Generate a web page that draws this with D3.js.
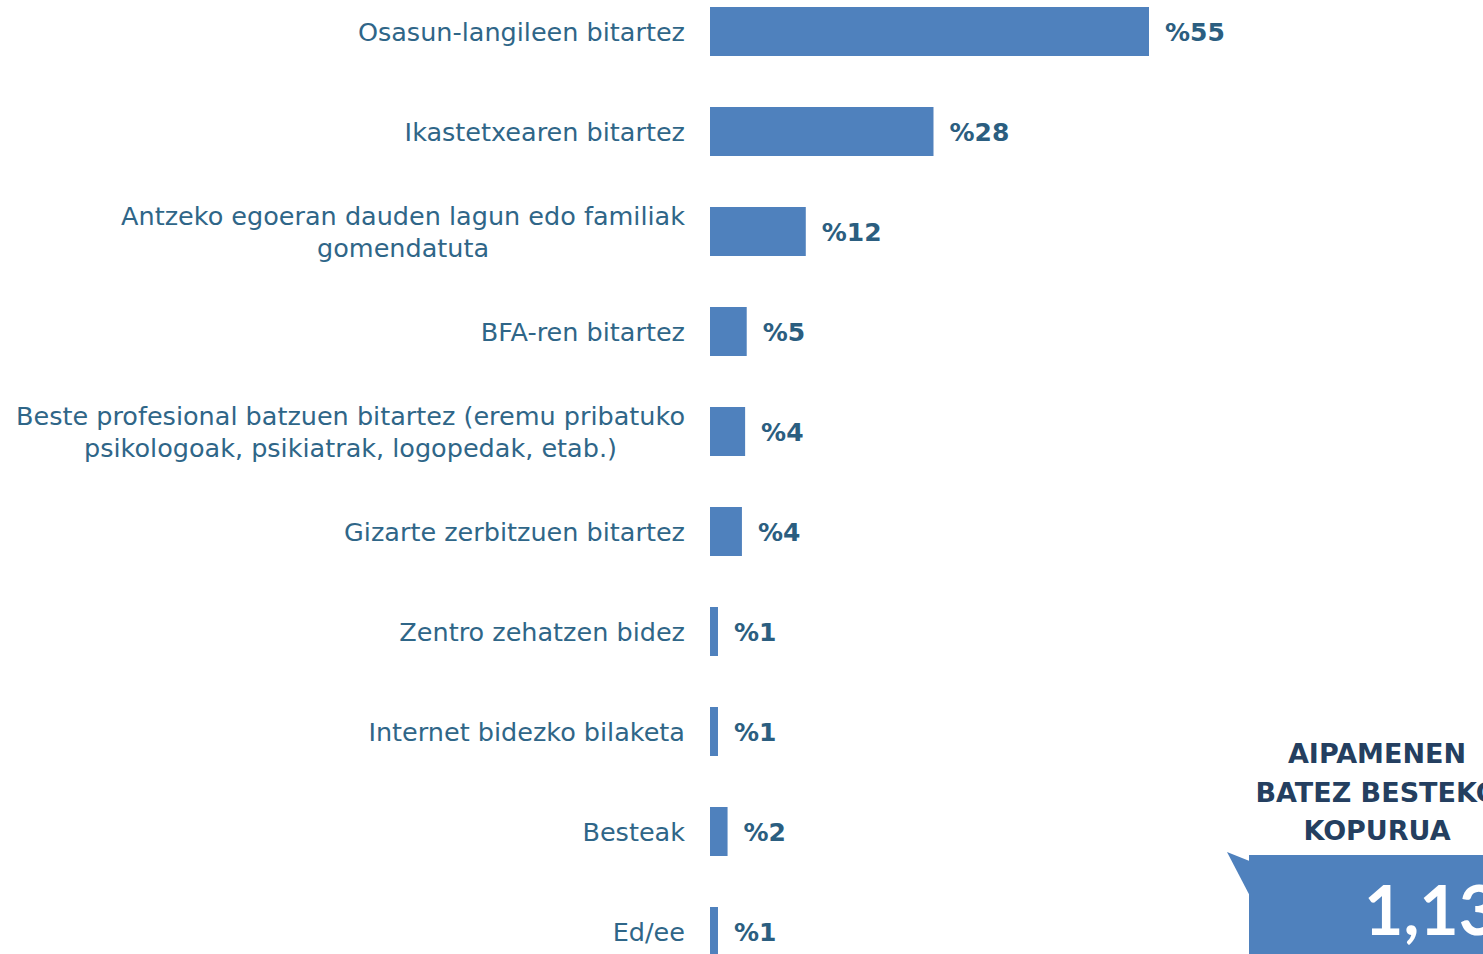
<!DOCTYPE html>
<html>
<head>
<meta charset="utf-8">
<script src="https://cdn.jsdelivr.net/npm/d3@7"></script>
<style>
  body { margin: 0; background: #fff; overflow: hidden; }
  svg { display: block; }
  .cat { fill: #2f6688; font-family: "Century Gothic", "DejaVu Sans", sans-serif; font-size: 25.5px; }
  .val { fill: #2b5e80; font-family: "Century Gothic", "DejaVu Sans", sans-serif; font-size: 25px; font-weight: bold; }
  .callTitle { fill: #243f60; font-family: "Century Gothic", "DejaVu Sans", sans-serif; font-size: 27px; font-weight: bold; }
  .callValue { fill: #fff; font-family: "Century Gothic", Lato, sans-serif; font-size: 68px; font-weight: bold; }
</style>
</head>
<body>
<div id="chart"></div>
<script>
// categories (line breaks as in the original)
var categories = [
    ["Osasun-langileen bitartez"],
    ["Ikastetxearen bitartez"],
    ["Antzeko egoeran dauden lagun edo familiak", "gomendatuta"],
    ["BFA-ren bitartez"],
    ["Beste profesional batzuen bitartez (eremu pribatuko", "psikologoak, psikiatrak, logopedak, etab.)"],
    ["Gizarte zerbitzuen bitartez"],
    ["Zentro zehatzen bidez"],
    ["Internet bidezko bilaketa"],
    ["Besteak"],
    ["Ed/ee"]
];
// percentages (bar lengths)
var values = [55, 28, 12, 4.6, 4.4, 4, 1, 1, 2.2, 1];
var valueLabels = ["%55", "%28", "%12", "%5", "%4", "%4", "%1", "%1", "%2", "%1"];

var calloutTitle = ["AIPAMENEN", "BATEZ BESTEKO", "KOPURUA"];
var calloutValue = "1,13";

var width = 1483, height = 954;
var barLeft = 710, labelRight = 685;

var svg = d3.select("#chart").append("svg")
    .attr("width", width)
    .attr("height", height);

var keys = d3.range(categories.length);

var x = d3.scaleLinear()
    .domain([0, 55])
    .range([barLeft, 1149]);

var y = d3.scaleBand()
    .domain(keys)
    .range([-18, 982])
    .paddingInner(0.5)
    .paddingOuter(0.25);

// bars
svg.append("g").selectAll("rect")
    .data(keys)
    .enter().append("rect")
        .attr("x", x(0))
        .attr("y", function(i) { return y(i); })
        .attr("width", function(i) { return x(values[i]) - x(0); })
        .attr("height", y.bandwidth() - 1)
        .attr("fill", "#4f81bd");

// value labels
svg.append("g").selectAll("text")
    .data(keys)
    .enter().append("text")
        .attr("class", "val")
        .attr("x", function(i) { return x(values[i]) + 16; })
        .attr("y", function(i) { return y(i) + y.bandwidth() / 2; })
        .attr("dy", "0.36em")
        .text(function(i) { return valueLabels[i]; });

// category labels: multi-line ones are centred on their widest line, right edge at labelRight
var lineH = 32;
var cg = svg.append("g");
keys.forEach(function(i) {
    var lines = categories[i];
    var cy = y(i) + y.bandwidth() / 2;
    var t = cg.append("text").attr("class", "cat");
    lines.forEach(function(l, j) {
        t.append("tspan")
            .attr("y", cy + (j - (lines.length - 1) / 2) * lineH)
            .attr("dy", "0.35em")
            .text(l);
    });
    var w = d3.max(t.selectAll("tspan").nodes(), function(n) { return n.getComputedTextLength(); });
    if (lines.length > 1) {
        t.attr("text-anchor", "middle");
        t.selectAll("tspan").attr("x", labelRight - w / 2);
    } else {
        t.attr("text-anchor", "end");
        t.selectAll("tspan").attr("x", labelRight);
    }
});

// callout
var cx = 1377;
var call = svg.append("g");
call.selectAll("text.callTitle")
    .data(calloutTitle)
    .enter().append("text")
        .attr("class", "callTitle")
        .attr("text-anchor", "middle")
        .attr("x", cx)
        .attr("y", function(d, i) { return 763 + i * 38.5; })
        .text(function(d) { return d; });

call.append("path")
    .attr("d", "M1227,852 L1252,862 L1252,900 Z")
    .attr("fill", "#4f81bd");
call.append("rect")
    .attr("x", 1249)
    .attr("y", 855)
    .attr("width", 260)
    .attr("height", 120)
    .attr("fill", "#4f81bd");
call.append("text")
    .attr("class", "callValue")
    .attr("x", 1364)
    .attr("y", 935)
    .text(calloutValue);
</script>
</body>
</html>
